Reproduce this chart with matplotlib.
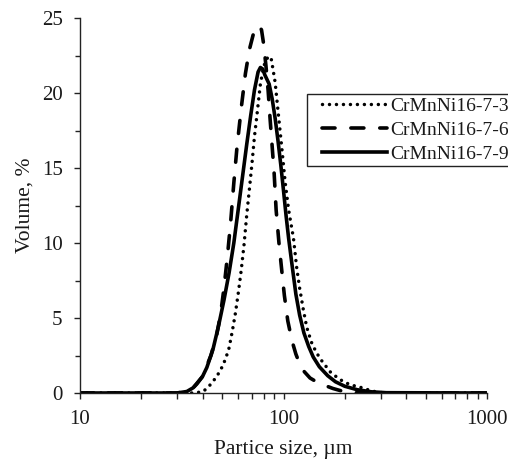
import matplotlib
matplotlib.use("Agg")
import matplotlib.pyplot as plt
from matplotlib.legend_handler import HandlerLine2D
from matplotlib.ticker import FixedLocator, FixedFormatter, MultipleLocator, NullFormatter

plt.rcParams['font.family'] = ['Liberation Serif', 'DejaVu Serif']

# Particle size distributions (volume %, by particle size in µm)
size_73 = [10, 30, 36, 40, 42, 44, 47, 50, 52, 54, 56, 58, 60, 62, 64, 66, 68, 70, 72, 74,
           77, 80, 83, 85, 87, 89, 91, 94, 98, 102, 106, 112, 116, 120, 125, 130, 137, 145,
           155, 170, 185, 200, 220, 240, 260, 280, 300, 330, 1000]
vol_73 = [0, 0, 0, 0.08, 0.3, 0.6, 1.1, 1.75, 2.3, 3.0, 4.1, 5.3, 6.7, 8.2, 9.9, 11.9, 13.6,
          15.3, 17.1, 18.5, 20.6, 21.8, 22.3, 22.45, 22.3, 21.5, 20.7, 18.8, 16.4, 14.0, 12.2,
          10.3, 8.4, 7.0, 5.6, 4.4, 3.4, 2.7, 2.1, 1.4, 1.0, 0.7, 0.5, 0.37, 0.22, 0.1, 0.03,
          0, 0]

size_76 = [10, 30, 33, 36, 40, 44, 47, 49, 51, 53, 55, 57, 59, 62, 65, 68, 71, 74, 76, 78,
           80, 82, 84, 86, 88, 90, 92, 95, 98, 101, 105, 110, 115, 120, 125, 135, 145, 160,
           175, 195, 220, 250, 1000]
vol_76 = [0, 0, 0.1, 0.35, 1.1, 2.5, 3.9, 5.2, 7.0, 9.1, 11.4, 14.0, 16.3, 19.0, 21.3, 22.9,
          23.9, 24.4, 24.5, 24.2, 23.2, 21.8, 20.2, 18.2, 16.4, 14.6, 12.2, 10.0, 8.2, 6.5,
          4.8, 3.5, 2.6, 1.95, 1.5, 1.0, 0.75, 0.5, 0.3, 0.12, 0.03, 0, 0]

size_79 = [10, 30, 33.5, 36, 37.5, 40, 42, 45, 48, 51, 54, 57, 60, 63, 66, 69, 72, 75, 77,
           79, 81, 85, 88, 91, 94, 97, 100, 103, 106, 110, 115, 120, 126, 133, 140, 150, 165,
           180, 200, 230, 270, 320, 1000]
vol_79 = [0, 0, 0.1, 0.35, 0.6, 1.1, 1.7, 2.9, 4.5, 6.2, 8.0, 10.0, 12.3, 14.5, 16.6, 18.5,
          20.2, 21.4, 21.7, 21.6, 21.2, 20.6, 19.6, 18.3, 16.8, 15.2, 13.5, 11.8, 10.3, 8.6,
          6.6, 5.2, 4.0, 3.1, 2.4, 1.75, 1.15, 0.75, 0.45, 0.22, 0.08, 0.02, 0]

labels = ['CrMnNi16-7-3', 'CrMnNi16-7-6', 'CrMnNi16-7-9']
x_ticks = [10, 100, 1000]
x_tick_labels = ['10', '100', '1000']
y_ticks = [0, 5, 10, 15, 20, 25]

fig = plt.figure(figsize=(5.08, 4.62), dpi=100)
ax = fig.add_axes([80 / 508, 1 - 393 / 462, 407 / 508, 375 / 462])

ink = '#1a1a1a'
ax.plot(size_73, vol_73, color='black', lw=2.5, linestyle=(0, (0.01, 2.0)),
        dash_capstyle='round', label=labels[0])
ax.plot(size_76, vol_76, color='black', lw=2.6, linestyle=(0, (3.6, 4.4)),
        dash_capstyle='round', label=labels[1])
ax.plot(size_79, vol_79, color='black', lw=2.6, linestyle='-', label=labels[2])

ax.set_xscale('log')
ax.set_xlim(10, 1000)
ax.set_ylim(0, 25)

ax.xaxis.set_major_locator(FixedLocator(x_ticks))
ax.xaxis.set_major_formatter(FixedFormatter(x_tick_labels))
ax.xaxis.set_minor_locator(FixedLocator([v * d for d in (10, 100) for v in range(2, 10)]))
ax.xaxis.set_minor_formatter(NullFormatter())
ax.yaxis.set_major_locator(FixedLocator(y_ticks))
ax.yaxis.set_minor_locator(MultipleLocator(2.5))

for side in ('top', 'right'):
    ax.spines[side].set_visible(False)
for side in ('left', 'bottom'):
    ax.spines[side].set_linewidth(1.0)
    ax.spines[side].set_color('#222222')

ax.tick_params(axis='both', which='both', direction='out', color='#222222', width=1.0,
               labelsize=15, labelcolor=ink)
ax.tick_params(axis='x', which='both', length=4, pad=8)
ax.tick_params(axis='y', which='major', length=4.5, pad=8)
ax.tick_params(axis='y', which='minor', length=3.5)

ax.set_xlabel('Partice size, µm', fontsize=15.5, color=ink, labelpad=8)
ax.set_ylabel('Volume, %', fontsize=15.5, color=ink, labelpad=5)

# Legend handles start a little in from the frame edge
handler = HandlerLine2D(xpad=0.6)
leg = ax.legend(loc='upper left', bbox_to_anchor=(0.558, 0.797), borderaxespad=0,
                fontsize=14, frameon=True, fancybox=False, framealpha=1,
                edgecolor='#222222', handlelength=3.95, handletextpad=0.15,
                labelspacing=0.31, borderpad=0.18,
                handler_map={l: handler for l in ax.get_lines()})
leg.get_frame().set_linewidth(1.0)
for t in leg.get_texts():
    t.set_color(ink)

fig.savefig('out.png', dpi=100)
